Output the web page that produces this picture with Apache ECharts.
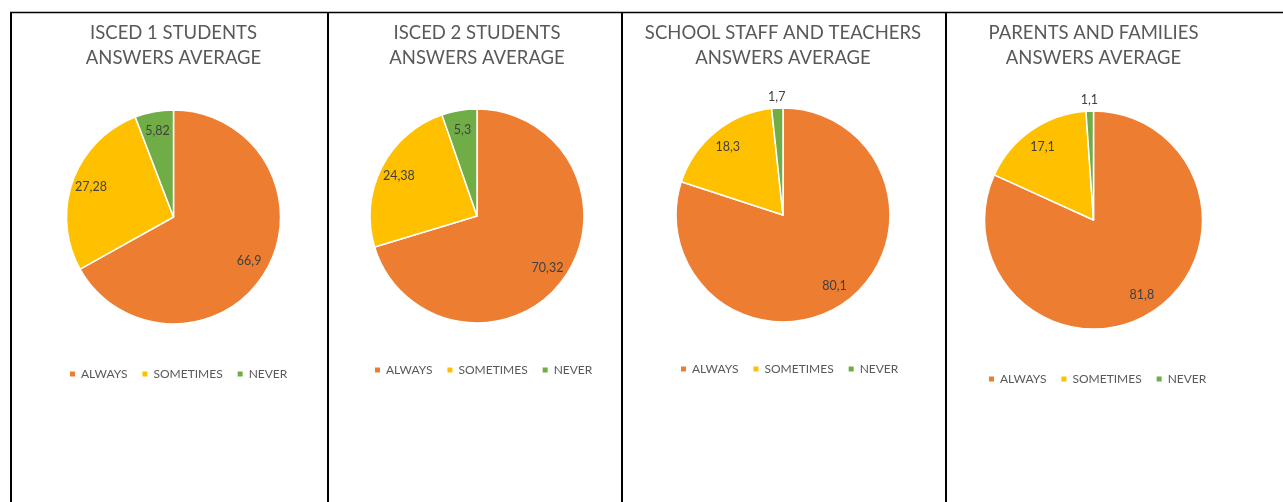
<!DOCTYPE html>
<html>
<head>
<meta charset="utf-8">
<script src="https://cdn.jsdelivr.net/npm/echarts@6/dist/echarts.min.js"></script>
<style>
  html, body { margin: 0; padding: 0; background: #fff; }
  #main { width: 1283px; height: 502px; }
</style>
</head>
<body>
<div id="main"></div>
<script>
// answer categories (legend order)
var categories = ["ALWAYS", "SOMETIMES", "NEVER"];
var titles = [
  "ISCED 1 STUDENTS\nANSWERS AVERAGE",
  "ISCED 2 STUDENTS\nANSWERS AVERAGE",
  "SCHOOL STAFF AND TEACHERS\nANSWERS AVERAGE",
  "PARENTS AND FAMILIES\nANSWERS AVERAGE"
];
// values per group (always, sometimes, never)
var isced1 = [66.9, 27.28, 5.82];
var isced2 = [70.32, 24.38, 5.3];
var staff = [80.1, 18.3, 1.7];
var parents = [81.8, 17.1, 1.1];
var groups = [isced1, isced2, staff, parents];

var colors = ["#ED7D31", "#FFC000", "#70AD47"];

// layout of each panel, in px
var panels = [
  { cx: 173.5, cy: 217, r: 107, legendX: 68, legendY: 368 },
  { cx: 477, cy: 216, r: 107, legendX: 373, legendY: 364 },
  { cx: 783, cy: 215, r: 107, legendX: 679, legendY: 363 },
  { cx: 1093.5, cy: 220, r: 109, legendX: 987, legendY: 373 }
];

function fmt(v) {
  return String(v).replace(".", ",");
}

var dom = document.getElementById("main");
var myChart = echarts.init(dom, null, { renderer: "canvas" });

var title = [];
var legend = [];
var series = [];

groups.forEach(function (vals, s) {
  var p = panels[s];
  var total = vals.reduce(function (a, b) { return a + b; }, 0);

  title.push({
    text: titles[s],
    left: p.cx,
    top: 21,
    padding: 0,
    textAlign: "center",
    textStyle: {
      fontFamily: "Lato",
      fontWeight: "normal",
      fontSize: 18.5,
      lineHeight: 25,
      color: "#595959"
    }
  });

  legend.push({
    data: categories,
    left: p.legendX,
    top: p.legendY,
    icon: "rect",
    itemWidth: 7,
    itemHeight: 7,
    itemGap: 13,
    selectedMode: false,
    padding: 0,
    textStyle: { fontFamily: "Lato", fontSize: 12, color: "#595959" }
  });

  series.push({
    type: "pie",
    center: [p.cx, p.cy],
    radius: p.r,
    startAngle: 90,
    clockwise: true,
    animation: false,
    silent: true,
    data: categories.map(function (c, i) {
      return { name: c, value: vals[i], itemStyle: { color: colors[i] } };
    }),
    itemStyle: { borderColor: "#ffffff", borderWidth: 1.5 },
    label: {
      show: true,
      position: "inside",
      formatter: function (d) { return fmt(d.value); },
      fontFamily: "Lato",
      fontSize: 12.5,
      color: "#404040"
    },
    labelLine: { show: false },
    // place labels like excel "best fit": deep inside, tiny slices just outside
    labelLayout: function (params) {
      var i = params.dataIndex;
      var before = 0;
      for (var k = 0; k < i; k++) before += vals[k];
      var mid = (before + vals[i] / 2) / total;
      var ang = (90 - mid * 360) * Math.PI / 180;
      var dist = vals[i] < 3 ? p.r + 11 : p.r * 0.82;
      return {
        x: p.cx + dist * Math.cos(ang),
        y: p.cy - dist * Math.sin(ang),
        align: "center",
        verticalAlign: "middle"
      };
    }
  });
});

// table borders around the panels
var lineStyle = { stroke: "#000", lineWidth: 2 };
var graphic = [
  { type: "line", shape: { x1: 10, y1: 12.5, x2: 1283, y2: 12.5 }, style: { stroke: "#000", lineWidth: 1.5 } }
];
[11, 328, 622, 946].forEach(function (x) {
  graphic.push({ type: "line", shape: { x1: x, y1: 12, x2: x, y2: 502 }, style: lineStyle });
});

var option = {
  backgroundColor: "#ffffff",
  title: title,
  legend: legend,
  series: series,
  graphic: graphic
};

if (option && typeof option === "object") {
  myChart.setOption(option);
}

window.addEventListener("resize", myChart.resize);
</script>
</body>
</html>
